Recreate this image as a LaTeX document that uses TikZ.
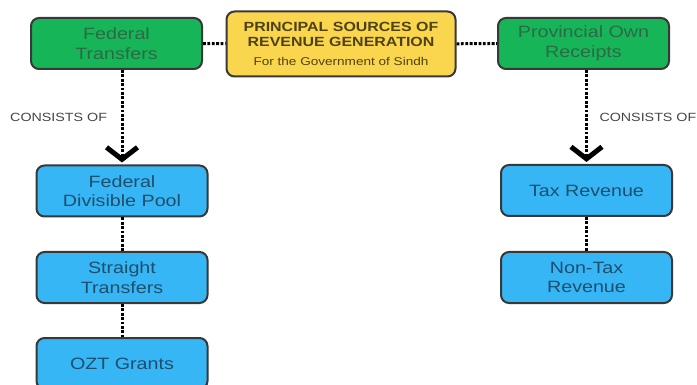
\documentclass[tikz,border=0pt]{standalone}
\usepackage{fontspec}
\setmainfont[FakeStretch=1.2]{Liberation Sans}
\usetikzlibrary{arrows.meta}

\definecolor{boxgreen}{RGB}{22,182,88}
\definecolor{boxblue}{RGB}{55,182,246}
\definecolor{boxyellow}{RGB}{250,214,78}
\definecolor{txtgreen}{RGB}{45,105,70}
\definecolor{txtblue}{RGB}{30,78,108}
\definecolor{txtyellow}{RGB}{78,66,20}

\begin{document}
\begin{tikzpicture}[x=1pt,y=-1pt,
  box/.style={rectangle, rounded corners=8pt, draw=black!78, line width=2pt,
    minimum width=171pt, minimum height=51pt, inner sep=0pt, align=center,
    font=\fontsize{16.4}{19.5}\selectfont},
  srcbox/.style={box, fill=boxgreen, text=txtgreen},
  itembox/.style={box, fill=boxblue, text=txtblue},
  titlebox/.style={box, fill=boxyellow, text=txtyellow, minimum width=229pt, minimum height=65pt,
    font=\bfseries\fontsize{13.3}{15.5}\selectfont},
  link/.style={line width=3pt, dash pattern=on 2.8pt off 1.6pt},
  consists/.style={link, -{Straight Barb[length=12pt,width=31pt,line width=5pt]}, shorten >=2pt},
  note/.style={text=black!72, font=\fontsize{11.9}{13}\selectfont, inner sep=0pt}]
\useasboundingbox (0,0) rectangle (697,385);
\fill[white] (0,0) rectangle (697,385);
\begin{scope}
\clip (0,0) rectangle (697,385);
% top row
\node[titlebox] (main) at (341,44) {PRINCIPAL SOURCES OF\\
  REVENUE GENERATION\\[3.5pt]
  {\mdseries\fontsize{11.3}{13}\selectfont For the Government of Sindh}};
\node[srcbox] (fed) at (116.5,43.5) {Federal\\Transfers};
\node[srcbox] (prov) at (583.5,43.5) {Provincial Own\\Receipts};
% left column
\node[itembox] (pool) at (122,191) {Federal\\Divisible Pool};
\node[itembox] (straight) at (122,277.5) {Straight\\Transfers};
\node[itembox] (ozt) at (122,363.5) {OZT Grants};
% right column
\node[itembox] (tax) at (586.5,190.5) {Tax Revenue};
\node[itembox] (nontax) at (586.5,277.5) {Non-Tax\\Revenue};
% links
\draw[link] (fed) -- (main);
\draw[link] (main) -- (prov);
\draw[consists] (fed.south -| pool.north) -- (pool.north);
\draw[consists] (prov.south -| tax.north) -- (tax.north);
\draw[link] (pool) -- (straight);
\draw[link] (straight) -- (ozt);
\draw[link] (tax) -- (nontax);
\node[note, anchor=west] (lnote) at (10,117) {CONSISTS OF};
\node[note, anchor=east] (rnote) at (696.5,117) {CONSISTS OF};
\end{scope}
\end{tikzpicture}
\end{document}
